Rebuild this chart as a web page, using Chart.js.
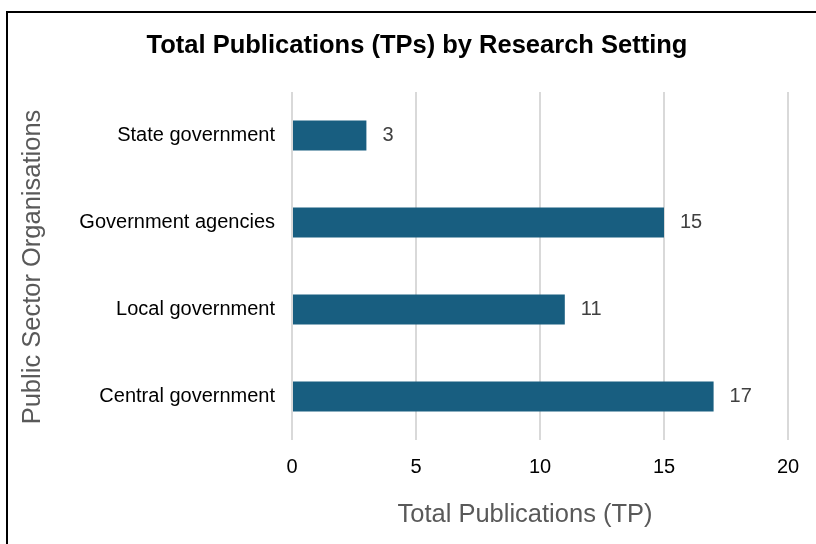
<!DOCTYPE html>
<html>
<head>
<meta charset="utf-8">
<script src="https://cdn.jsdelivr.net/npm/chart.js@4.4.0/dist/chart.umd.min.js"></script>
<style>
  html, body { margin: 0; padding: 0; background: #fff; }
  #wrap { position: relative; width: 816px; height: 544px; }
</style>
</head>
<body>
<div id="wrap"><canvas id="barChart" width="816" height="544"></canvas></div>
<script>
// publications per setting
var setores = ['State government', 'Government agencies', 'Local government', 'Central government'];
var publicacoes = [3, 15, 11, 17];
var eixo_x = { min: 0, max: 20, passo: 5 };

var titulo = 'Total Publications (TPs) by Research Setting';
var titulo_x = 'Total Publications (TP)';
var titulo_y = 'Public Sector Organisations';

var fonte = '"Liberation Sans", Arial, sans-serif';
Chart.defaults.font.family = fonte;

// frame around the figure (left + top edges)
const moldura = {
    id: 'moldura',
    beforeDraw(chart) {
        const ctx = chart.ctx;
        ctx.save();
        ctx.fillStyle = '#fff';
        ctx.fillRect(0, 0, chart.width, chart.height);
        ctx.fillStyle = '#000';
        ctx.fillRect(6, 11, 2, chart.height);
        ctx.fillRect(6, 11, chart.width, 2);
        ctx.restore();
    }
};

// chart title and axis titles, placed by hand
const titulos = {
    id: 'titulos',
    afterDraw(chart) {
        const ctx = chart.ctx;
        const area = chart.chartArea;
        ctx.save();
        ctx.textAlign = 'center';
        ctx.textBaseline = 'middle';

        ctx.fillStyle = '#000';
        ctx.font = 'bold 25.5px ' + fonte;
        ctx.fillText(titulo, 417, 46);

        ctx.fillStyle = '#595959';
        ctx.font = '25.5px ' + fonte;
        ctx.fillText(titulo_x, 525, 515);

        ctx.translate(33, (area.top + area.bottom) / 2 + 1);
        ctx.rotate(-Math.PI / 2);
        ctx.fillText(titulo_y, 0, 0);
        ctx.restore();
    }
};

// value next to the end of each bar
const rotulos = {
    id: 'rotulos',
    afterDatasetsDraw(chart) {
        const ctx = chart.ctx;
        const meta = chart.getDatasetMeta(0);
        ctx.save();
        ctx.font = '20px ' + fonte;
        ctx.fillStyle = '#404040';
        ctx.textAlign = 'left';
        ctx.textBaseline = 'middle';
        meta.data.forEach(function (barra, i) {
            ctx.fillText(String(publicacoes[i]), barra.x + 16, barra.y);
        });
        ctx.restore();
    }
};

function plotar_grafico() {
    const data_setores = {
        labels: setores,
        datasets: [{
            label: titulo_x,
            data: publicacoes,
            backgroundColor: '#185e80',
            borderWidth: 0,
            categoryPercentage: 1,
            barPercentage: 0.345
        }]
    };

    const config = {
        type: 'bar',
        data: data_setores,
        plugins: [moldura, rotulos, titulos],
        options: {
            indexAxis: 'y',
            responsive: false,
            animation: false,
            layout: { padding: { left: 18, right: 28, top: 92, bottom: 15 } },
            plugins: {
                legend: { display: false },
                tooltip: { enabled: false },
                title: { display: false }
            },
            scales: {
                x: {
                    min: eixo_x.min,
                    max: eixo_x.max,
                    ticks: { stepSize: eixo_x.passo, color: '#000', font: { size: 20 }, padding: 15 },
                    grid: { color: '#d9d9d9', lineWidth: 2, drawTicks: false },
                    border: { display: false },
                    afterFit(scale) { scale.height = 89; }
                },
                y: {
                    ticks: { color: '#000', font: { size: 20 }, padding: 17 },
                    grid: { display: false, drawTicks: false },
                    border: { display: false },
                    afterFit(scale) { scale.width = 274; }
                }
            }
        }
    };

    const ctx = document.getElementById('barChart').getContext('2d');
    const grafico = new Chart(ctx, config);
}

window.addEventListener('load', plotar_grafico);
</script>
</body>
</html>
